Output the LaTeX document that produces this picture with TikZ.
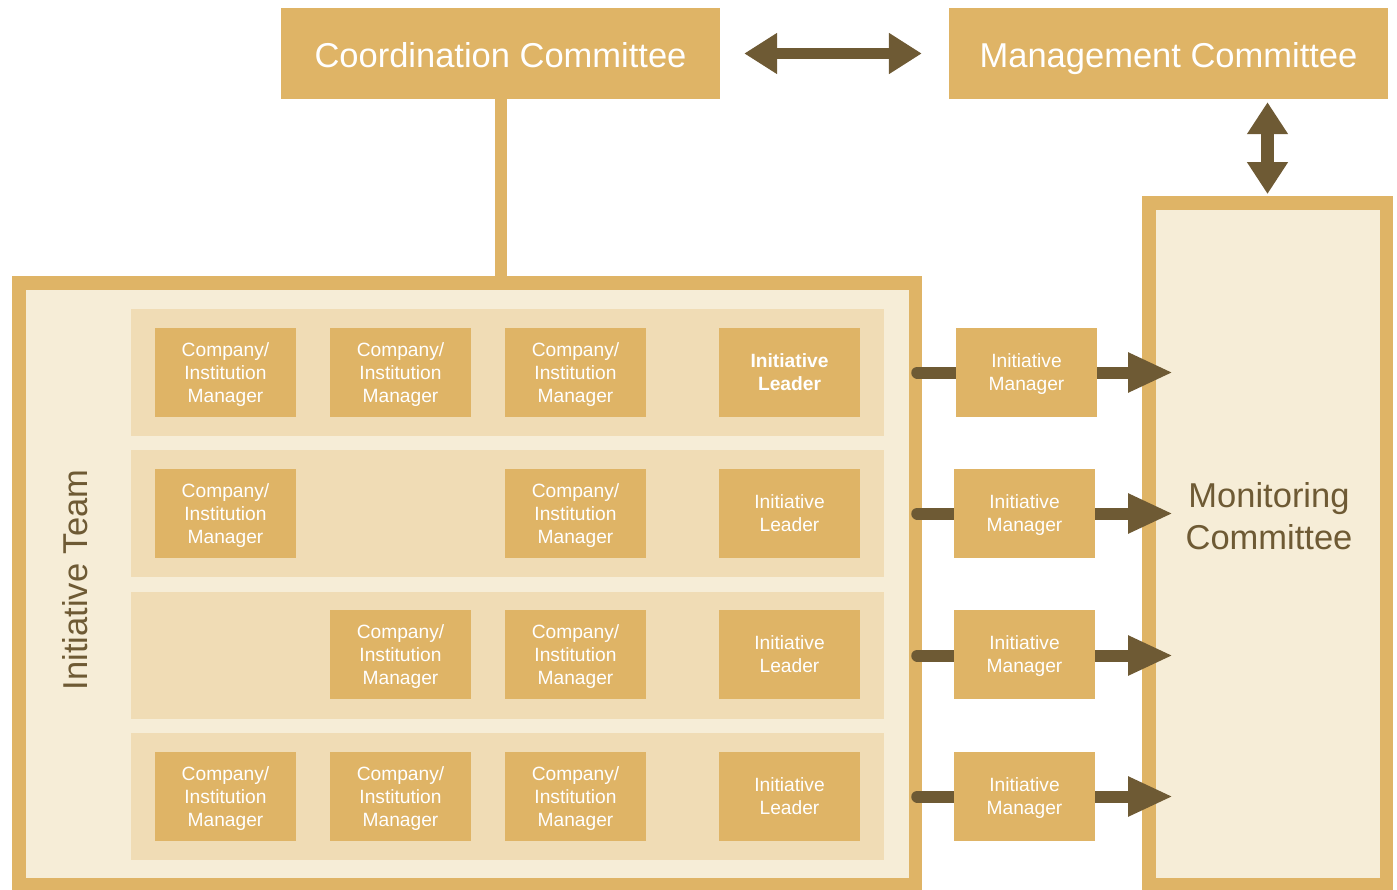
\documentclass[tikz,border=0pt]{standalone}
\usepackage{fontspec}
\setmainfont{Liberation Sans}
\usetikzlibrary{arrows.meta}
\definecolor{gold}{HTML}{DFB466}
\definecolor{brownd}{HTML}{6E5A34}
\definecolor{cream}{HTML}{F6EDD7}
\definecolor{bandc}{HTML}{F0DCB5}
\begin{document}
\begin{tikzpicture}[x=1pt,y=-1pt,
  titlebox/.style={fill=gold,draw=none,minimum width=439pt,minimum height=91pt,inner sep=0pt,
    text=white,font=\fontsize{34.5}{40}\selectfont,text height=27.7pt,text depth=0pt},
  frame/.style={fill=cream,draw=gold,line width=13.5pt,inner sep=0pt},
  band/.style={fill=bandc,draw=none,minimum width=753pt,minimum height=127pt,inner sep=0pt},
  cbox/.style={fill=gold,draw=none,minimum width=141pt,minimum height=89pt,inner sep=0pt,
    text=white,align=center,font=\fontsize{19.2}{23}\selectfont},
  mbox/.style={cbox,text depth=-2pt},
  bigtext/.style={text=brownd,align=center,inner sep=0pt,font=\fontsize{34.5}{42}\selectfont},
  dbl/.style={draw=brownd,line width=11pt,{Triangle[width=39pt,length=33pt]}-{Triangle[width=39pt,length=33pt]}},
  rowarrow/.style={draw=brownd,line width=12pt,line cap=round,-{Triangle[width=37pt,length=45pt]},
    shorten <=-5pt,shorten >=-31pt}
]
\useasboundingbox (0,0) rectangle (1397,889);
% top committees
\node[titlebox] (coord) at (500.5,53.5) {Coordination Committee};
\node[titlebox] (mgmt) at (1168.5,53.5) {Management Committee};
% frames
\node[frame,minimum width=896.5pt,minimum height=602pt] (team) at (467.25,584) {};
\node[frame,minimum width=237.5pt,minimum height=682.25pt] (monitor) at (1267.5,543.875) {};
% coordination link
\draw[gold,line width=12pt] (coord.south) -- (coord.south |- team.north);
% bands
\node[band] (band1) at (507.5,372.5) {};
\node[band] (band2) at (507.5,513.5) {};
\node[band] (band3) at (507.5,655.5) {};
\node[band] (band4) at (507.5,796.5) {};
% row 1
\node[mbox] (a1) at (225.5,372.5) {Company/\\Institution\\Manager};
\node[mbox] (b1) at (400.5,372.5) {Company/\\Institution\\Manager};
\node[mbox] (c1) at (575.5,372.5) {Company/\\Institution\\Manager};
\node[cbox,font=\fontsize{19.2}{23}\selectfont\bfseries] (l1) at (789.5,372.5) {Initiative\\Leader};
% row 2
\node[mbox] (a2) at (225.5,513.5) {Company/\\Institution\\Manager};
\node[mbox] (c2) at (575.5,513.5) {Company/\\Institution\\Manager};
\node[cbox] (l2) at (789.5,513.5) {Initiative\\Leader};
% row 3
\node[mbox] (b3) at (400.5,654.5) {Company/\\Institution\\Manager};
\node[mbox] (c3) at (575.5,654.5) {Company/\\Institution\\Manager};
\node[cbox] (l3) at (789.5,654.5) {Initiative\\Leader};
% row 4
\node[mbox] (a4) at (225.5,796.5) {Company/\\Institution\\Manager};
\node[mbox] (b4) at (400.5,796.5) {Company/\\Institution\\Manager};
\node[mbox] (c4) at (575.5,796.5) {Company/\\Institution\\Manager};
\node[cbox] (l4) at (789.5,796.5) {Initiative\\Leader};
% labels
\node[bigtext,rotate=90] (teamlabel) at (75,580) {Initiative Team};
\node[bigtext] (monlabel) at (1269,516) {Monitoring\\Committee};
% arrows between committees
\draw[dbl,shorten <=24pt,shorten >=27pt] (coord.east) -- (mgmt.west);
\draw[draw=brownd,line width=13pt,{Triangle[width=39pt,length=32pt]}-{Triangle[width=39pt,length=32pt]},shorten <=3pt,shorten >=2pt] (monitor.north |- mgmt.south) -- (monitor.north);
% row arrows
\draw[rowarrow] (team.east |- band1) -- (monitor.west |- band1);
\draw[rowarrow] (team.east |- band2) -- (monitor.west |- band2);
\draw[rowarrow] (team.east |- band3) -- (monitor.west |- band3);
\draw[rowarrow] (team.east |- band4) -- (monitor.west |- band4);
% initiative managers
\node[mbox] (m1) at (1026.5,372.5) {Initiative\\Manager};
\node[mbox] (m2) at (1024.5,513.5) {Initiative\\Manager};
\node[mbox] (m3) at (1024.5,654.5) {Initiative\\Manager};
\node[mbox] (m4) at (1024.5,796.5) {Initiative\\Manager};
\end{tikzpicture}
\end{document}
